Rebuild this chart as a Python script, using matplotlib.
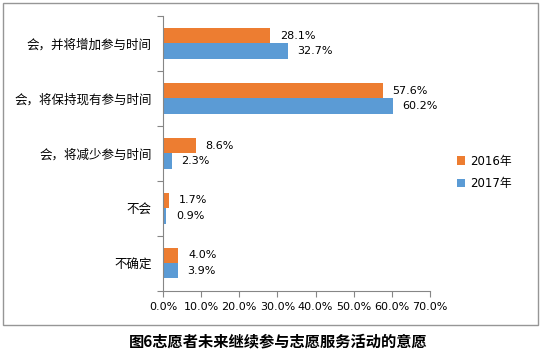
import matplotlib
matplotlib.use("Agg")
import matplotlib.pyplot as plt
from matplotlib.patches import Rectangle
import numpy as np

plt.rcParams['font.family'] = ['Noto Sans CJK SC', 'DejaVu Sans']

categories = ["会，并将增加参与时间", "会，将保持现有参与时间", "会，将减少参与时间", "不会", "不确定"]
v2016 = [28.1, 57.6, 8.6, 1.7, 4.0]
v2017 = [32.7, 60.2, 2.3, 0.9, 3.9]
series_names = ["2016年", "2017年"]
xticks = [0, 10, 20, 30, 40, 50, 60, 70]
title = "图6志愿者未来继续参与志愿服务活动的意愿"

W, H = 541, 363
fig = plt.figure(figsize=(W / 100, H / 100), dpi=100)
ax = fig.add_axes([163 / W, 1 - 290.5 / H, (430 - 163) / W, (290.5 - 16) / H])

y = np.arange(len(categories))
bh = 0.28
c16, c17 = "#ED7D31", "#5B9BD5"
b1 = ax.barh(y - bh / 2, v2016, height=bh, color=c16, label=series_names[0])
b2 = ax.barh(y + bh / 2, v2017, height=bh, color=c17, label=series_names[1])
for bars, vals in ((b1, v2016), (b2, v2017)):
    for rect, v in zip(bars, vals):
        ax.annotate(f"{v:.1f}%", (v, rect.get_y() + rect.get_height() / 2),
                    xytext=(7, 0), textcoords="offset points", va="center", ha="left",
                    fontsize=8, family=["DejaVu Sans"], color="#000000")

ax.set_ylim(len(categories) - 0.5, -0.5)
ax.set_xlim(0, 70)
ax.set_xticks(xticks)
ax.set_xticklabels([f"{t:.1f}%" for t in xticks], fontsize=8, family=["DejaVu Sans"])
ax.set_yticks(np.arange(len(categories) + 1) - 0.5, minor=False)
ax.set_yticklabels([])
ax.set_yticks(y, minor=True)
ax.set_yticklabels(categories, minor=True, fontsize=9)
ax.tick_params(axis='y', which='minor', length=0, pad=8)
ax.tick_params(axis='y', which='major', length=4, color="#868686", direction='out')
ax.tick_params(axis='x', length=4, color="#868686", direction='out', pad=4)
for s in ("top", "right"):
    ax.spines[s].set_visible(False)
for s in ("left", "bottom"):
    ax.spines[s].set_color("#868686")

leg = ax.legend(loc="center left", bbox_to_anchor=((452 - 163) / (430 - 163), 0.43),
                frameon=False, fontsize=8.5, handlelength=0.7, handleheight=0.7,
                handletextpad=0.4, labelspacing=0.8, borderaxespad=0)
for t in leg.get_texts():
    t.set_family(["DejaVu Sans", "Noto Sans CJK SC"])

fig.patches.append(Rectangle((2.5 / W, 1 - 325 / H), (538 - 2.5) / W, (325 - 2.5) / H,
                             transform=fig.transFigure, fill=False, edgecolor="#969696", lw=1))
fig.text(278 / W, 1 - 341 / H, title, ha="center", va="center", fontsize=11, fontweight="bold")

fig.savefig("out.png", dpi=100)
